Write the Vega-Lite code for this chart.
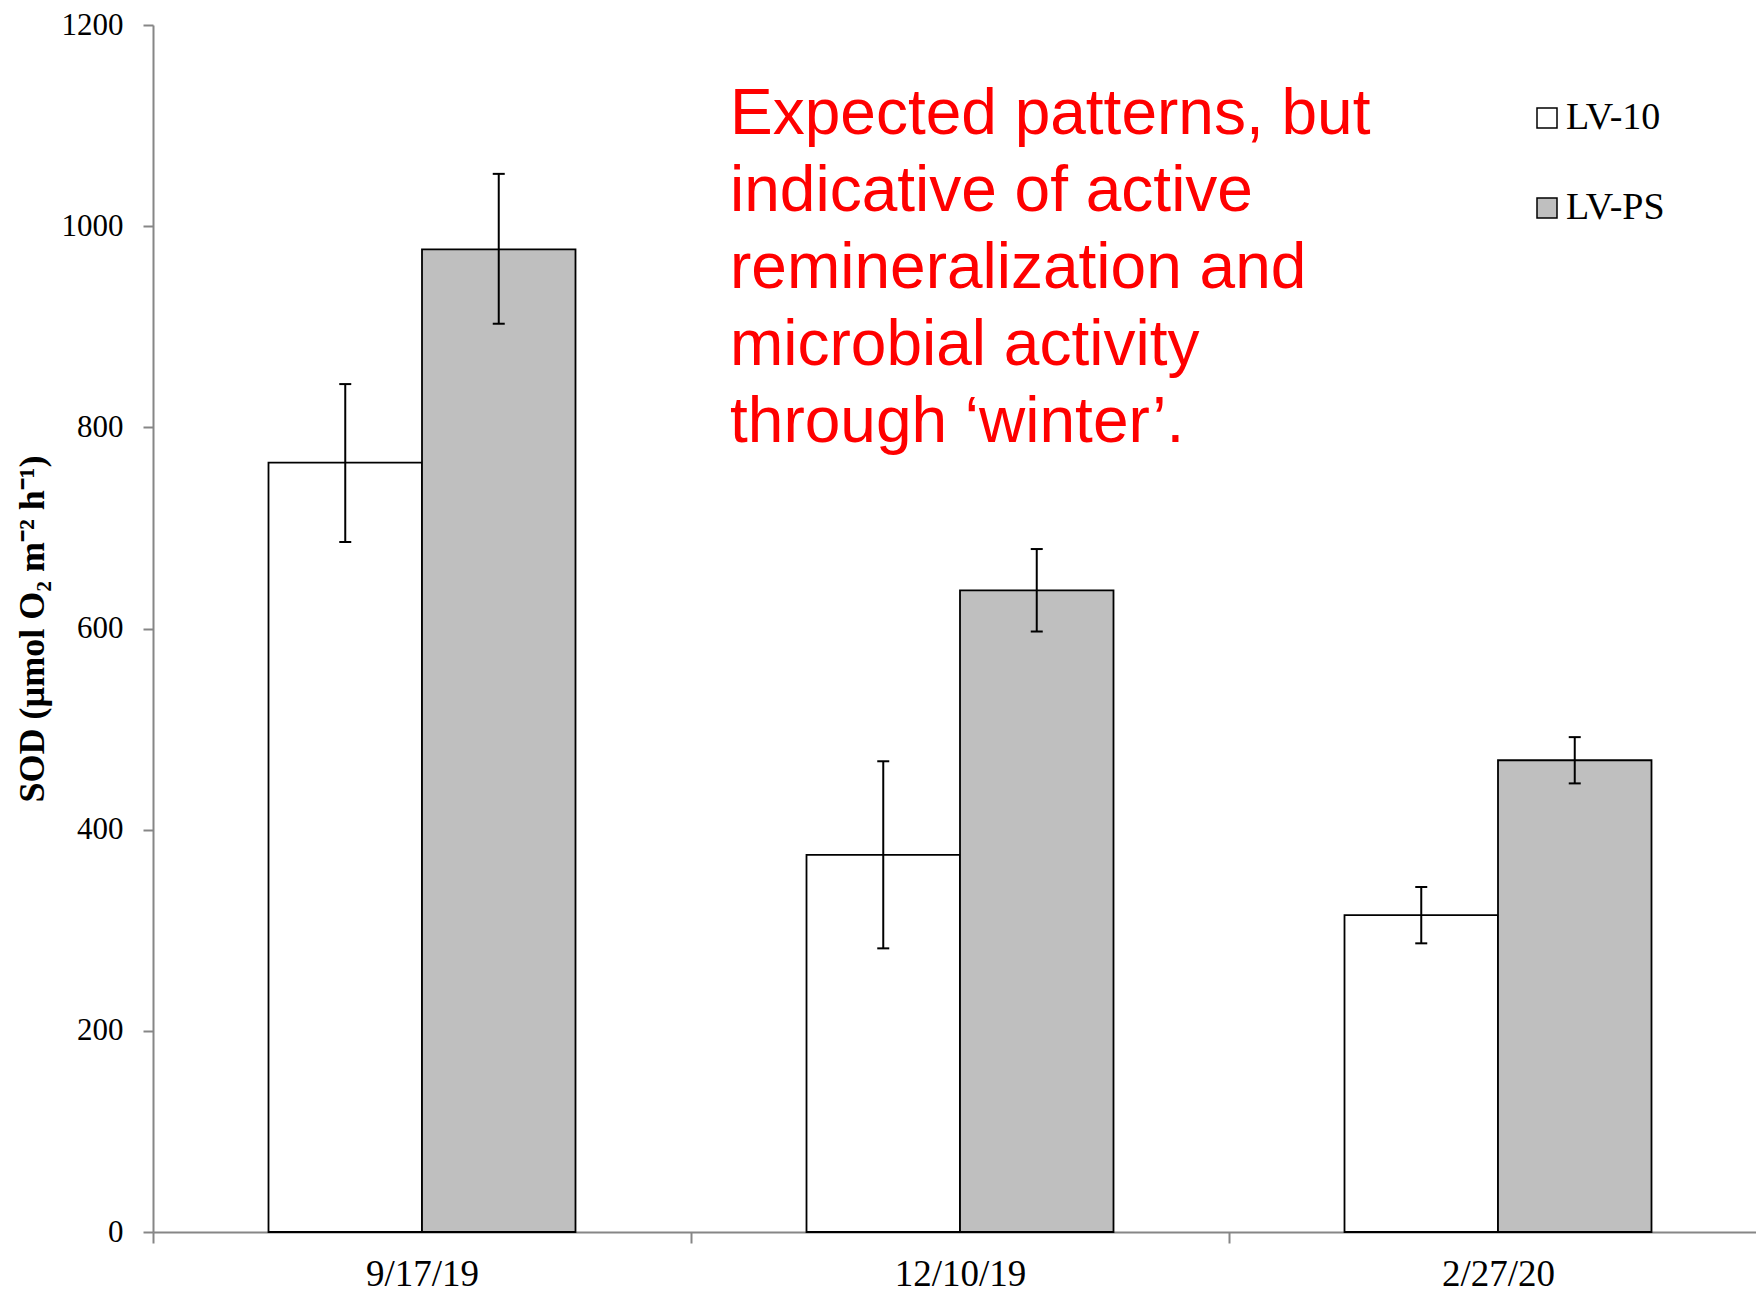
{
  "$schema": "https://vega.github.io/schema/vega-lite/v6.json",
  "width": 1614,
  "height": 1207,
  "autosize": {"type": "none"},
  "padding": {"left": 153, "top": 25, "right": 0, "bottom": 62},
  "background": "white",
  "config": {
    "view": {"stroke": null},
    "font": "Liberation Serif"
  },
  "datasets": {
    "sod": [
      {"date": "9/17/19", "site": "LV-10", "sod": 765, "lo": 686, "hi": 843},
      {"date": "9/17/19", "site": "LV-PS", "sod": 977, "lo": 903, "hi": 1052},
      {"date": "12/10/19", "site": "LV-10", "sod": 375, "lo": 282, "hi": 468},
      {"date": "12/10/19", "site": "LV-PS", "sod": 638, "lo": 597, "hi": 679},
      {"date": "2/27/20", "site": "LV-10", "sod": 315, "lo": 287, "hi": 343},
      {"date": "2/27/20", "site": "LV-PS", "sod": 469, "lo": 446, "hi": 492}
    ],
    "note": [
      {"date": "12/10/19", "y": 1092, "text": "Expected patterns, but\nindicative of active\nremineralization and\nmicrobial activity\nthrough ‘winter’."}
    ]
  },
  "layer": [
    {
      "data": {"name": "sod"},
      "mark": {"type": "bar", "stroke": "black", "strokeWidth": 1.8},
      "encoding": {
        "x": {
          "field": "date", "type": "nominal",
          "scale": {"domain": ["9/17/19", "12/10/19", "2/27/20"], "paddingInner": 0, "paddingOuter": 0},
          "axis": {
            "title": null, "labelAngle": 0, "tickBand": "extent",
            "domainColor": "#868686", "domainWidth": 2,
            "tickColor": "#868686", "tickWidth": 2, "tickSize": 11,
            "labelFont": "Liberation Serif", "labelFontSize": 37, "labelColor": "black", "labelPadding": 13
          }
        },
        "xOffset": {"field": "site", "type": "nominal", "scale": {"paddingInner": 0, "paddingOuter": 0.7525}},
        "y": {
          "field": "sod", "type": "quantitative",
          "scale": {"domain": [0, 1200], "nice": false, "zero": true},
          "axis": {
            "values": [0, 200, 400, 600, 800, 1000, 1200], "format": "d", "grid": false,
            "domainColor": "#868686", "domainWidth": 2,
            "tickColor": "#868686", "tickWidth": 2, "tickSize": 10,
            "labelFont": "Liberation Serif", "labelFontSize": 31, "labelColor": "black", "labelPadding": 20,
            "title": "SOD (µmol O₂ m⁻² h⁻¹)",
            "titleFont": "Liberation Serif", "titleFontSize": 36, "titleFontWeight": "bold", "titleColor": "black", "titlePadding": 10
          }
        },
        "fill": {
          "field": "site", "type": "nominal",
          "scale": {"domain": ["LV-10", "LV-PS"], "range": ["#ffffff", "#bfbfbf"]},
          "legend": {
            "title": null, "orient": "none", "legendX": 1375, "legendY": 74,
            "padding": 0, "symbolType": "square", "symbolSize": 400,
            "symbolStrokeColor": "black", "symbolStrokeWidth": 1.5,
            "labelFont": "Liberation Serif", "labelFontSize": 38, "labelColor": "black",
            "labelOffset": 0, "rowPadding": 52
          }
        }
      }
    },
    {
      "data": {"name": "sod"},
      "mark": {"type": "rule", "color": "black", "strokeWidth": 2},
      "encoding": {
        "x": {"field": "date", "type": "nominal"},
        "xOffset": {"field": "site", "type": "nominal"},
        "y": {"field": "lo", "type": "quantitative"},
        "y2": {"field": "hi"}
      }
    },
    {
      "data": {"name": "sod"},
      "mark": {"type": "tick", "color": "black", "size": 12, "thickness": 2, "opacity": 1},
      "encoding": {
        "x": {"field": "date", "type": "nominal"},
        "xOffset": {"field": "site", "type": "nominal"},
        "y": {"field": "lo", "type": "quantitative"}
      }
    },
    {
      "data": {"name": "sod"},
      "mark": {"type": "tick", "color": "black", "size": 12, "thickness": 2, "opacity": 1},
      "encoding": {
        "x": {"field": "date", "type": "nominal"},
        "xOffset": {"field": "site", "type": "nominal"},
        "y": {"field": "hi", "type": "quantitative"}
      }
    },
    {
      "data": {"name": "note"},
      "mark": {
        "type": "text", "align": "left", "baseline": "alphabetic", "lineBreak": "\n",
        "font": "Liberation Sans", "fontSize": 64, "lineHeight": 77, "color": "#ff0000", "dx": 39
      },
      "encoding": {
        "x": {"field": "date", "type": "nominal", "bandPosition": 0},
        "y": {"field": "y", "type": "quantitative"},
        "text": {"field": "text"}
      }
    }
  ]
}
